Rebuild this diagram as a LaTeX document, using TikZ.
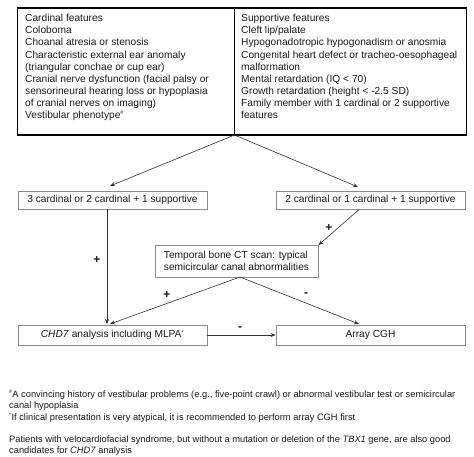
\documentclass[tikz,border=0pt]{standalone}
\usepackage{fontspec}
\setmainfont{Liberation Sans}
\usetikzlibrary{arrows.meta}
\definecolor{txt}{HTML}{1A1A1A}
\definecolor{boxline}{HTML}{8A8A8A}
\definecolor{arr}{HTML}{333333}
\begin{document}
\begin{tikzpicture}[x=1pt,y=-1pt,
  font=\fontsize{10.2}{12.1}\selectfont,
  every node/.style={text=txt},
  flowbox/.style={draw=boxline, line width=0.8pt, inner sep=0pt},
  conn/.style={draw=arr, line width=0.6pt, -{Stealth[length=5pt,width=4pt]}},
  sign/.style={font=\fontsize{12}{12}\selectfont\bfseries, text=txt}]
\useasboundingbox (0,0) rectangle (474,456);
% table
\draw[line width=0.6pt] (17,8) -- (17,135) (234.5,8) -- (234.5,135) (466,8) -- (466,135);
\draw[line width=1.5pt] (16.5,8) -- (466.5,8) (16.5,135) -- (466.5,135);
\node[anchor=north west, align=left, inner sep=0pt] (card) at (25,14.2) {%
Cardinal features\\
Coloboma\\
Choanal atresia or stenosis\\
Characteristic external ear anomaly\\
(triangular conchae or cup ear)\\
Cranial nerve dysfunction (facial palsy or\\
sensorineural hearing loss or hypoplasia\\
of cranial nerves on imaging)\\
Vestibular phenotype\textsuperscript{\scalebox{0.75}{\#}}};
\node[anchor=north west, align=left, inner sep=0pt] (supp) at (241,14.2) {%
Supportive features\\
Cleft lip/palate\\
Hypogonadotropic hypogonadism or anosmia\\
Congenital heart defect or tracheo-oesophageal\\
malformation\\
Mental retardation (IQ < 70)\\
Growth retardation (height < -2.5 SD)\\
Family member with 1 cardinal or 2 supportive\\
features};
\coordinate (tb) at (234.5,135);
% boxes
\node[flowbox, minimum width=189pt, minimum height=18pt] (b1) at (112.5,200) {3 cardinal or 2 cardinal + 1 supportive};
\node[flowbox, minimum width=189pt, minimum height=18pt] (b2) at (370.5,200) {2 cardinal or 1 cardinal + 1 supportive};
\node[flowbox, minimum width=163pt, minimum height=32pt, align=left] (ct) at (236.5,261) {Temporal bone CT scan: typical\\semicircular canal abnormalities};
\node[flowbox, minimum width=189pt, minimum height=20pt] (chd) at (112.5,335) {\textit{CHD7} analysis including MLPA\textsuperscript{\scalebox{0.75}{*}}};
\node[flowbox, minimum width=189pt, minimum height=20pt] (cgh) at (370.5,335) {Array CGH};
% connectors
\draw[conn] (tb) -- (110,186);
\draw[conn] (tb) -- (358,187);
\draw[conn] (107,209) -- (107,324);
\draw[conn] (359,209.5) -- (318.5,245);
\coordinate (ctb) at (240,277);
\draw[conn] (ctb) -- (110,324);
\draw[conn] (ctb) -- (359,324);
\draw[conn] (chd.east) -- (cgh.west);
% signs
\node[sign] at (97,260) {+};
\node[sign] at (329,228) {+};
\node[sign] at (167,295) {+};
\node[sign] at (306,295) {-};
\node[sign] at (240,329) {-};
% footnotes
\node[anchor=north west, align=left, inner sep=0pt, font=\fontsize{9.3}{11.45}\selectfont] (fn) at (9,390) {%
\textsuperscript{\scalebox{0.75}{\#}}A convincing history of vestibular problems (e.g., five-point crawl) or abnormal vestibular test or semicircular\\
canal hypoplasia\\
\textsuperscript{\scalebox{0.75}{*}}If clinical presentation is very atypical, it is recommended to perform array CGH first\\[10.4pt]
Patients with velocardiofacial syndrome, but without a mutation or deletion of the \textit{TBX1} gene, are also good\\
candidates for \textit{CHD7} analysis};
\end{tikzpicture}
\end{document}
